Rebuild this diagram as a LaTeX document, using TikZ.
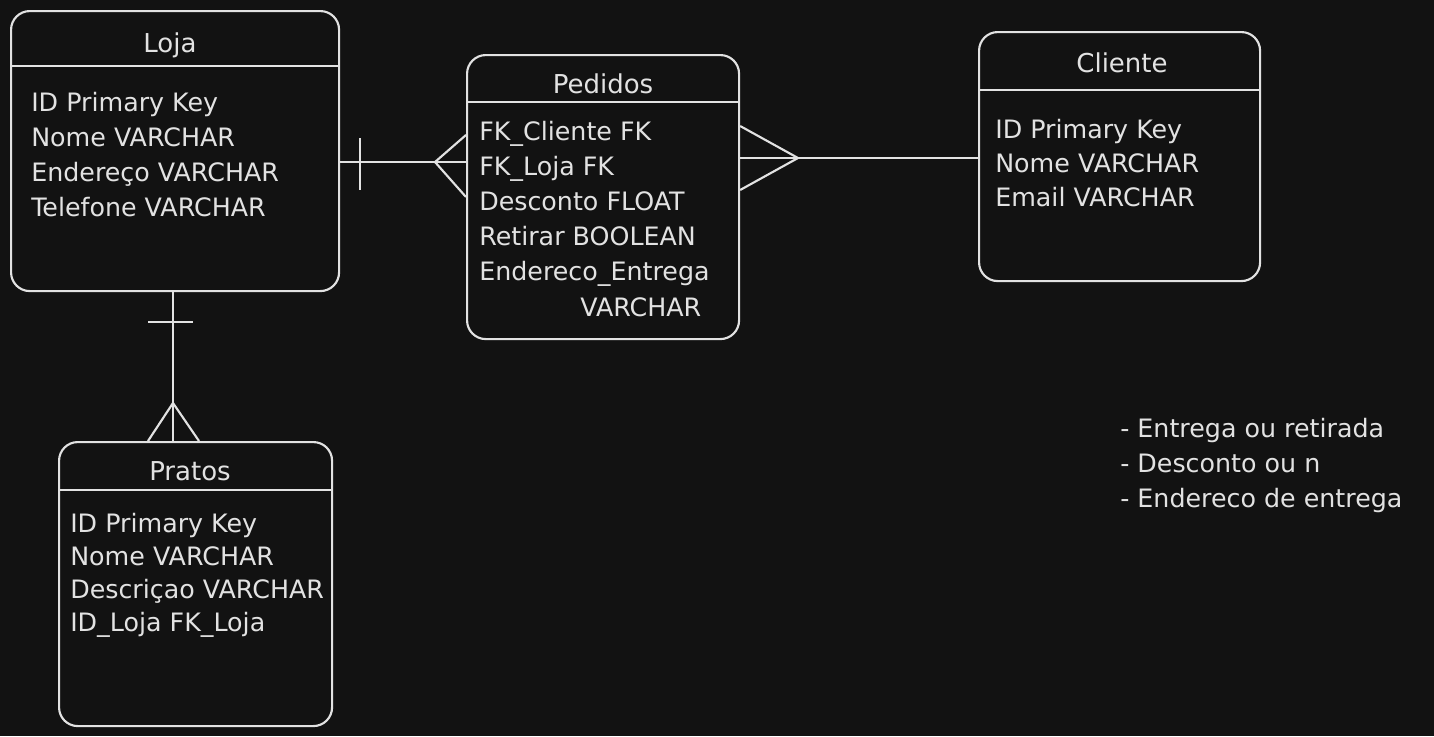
\documentclass[tikz,border=0pt]{standalone}
\usepackage{fontspec}
\setmainfont{DejaVu Sans}
\definecolor{bg}{HTML}{121212}
\definecolor{fg}{HTML}{E2E2E2}
\tikzset{
  entity/.style={draw=fg, line width=1.6pt, rounded corners=14pt, anchor=north west, inner sep=0pt},
  title/.style={text=fg, anchor=base, inner sep=0pt, font=\fontsize{19.5}{24}\selectfont},
  field/.style={text=fg, anchor=base west, inner sep=0pt, font=\fontsize{19}{24}\selectfont},
  rel/.style={draw=fg, line width=1.6pt}
}
\begin{document}
\begin{tikzpicture}[x=0.75pt,y=0.75pt,yscale=-1,xscale=1]
% background
\fill[bg] (0,0) rectangle (1434,736);
\useasboundingbox (0,0) rectangle (1434,736);

%Shape: Loja
\node[entity, minimum width=246pt, minimum height=210pt] (loja) at (10,10) {};
\draw[rel] (loja.west |- 0,66) -- (loja.east |- 0,66);
\node[title] (lojaT) at (170,52) {Loja};
\foreach \txt [count=\i] in {ID Primary Key, Nome VARCHAR, Endereço VARCHAR, Telefone VARCHAR}
  \node[field] (loja\i) at (31,76+35*\i) {\txt};

%Shape: Pedidos
\node[entity, minimum width=204pt, minimum height=213pt] (pedidos) at (466,54) {};
\draw[rel] (pedidos.west |- 0,102) -- (pedidos.east |- 0,102);
\node[title] (pedidosT) at (603,93) {Pedidos};
\foreach \txt [count=\i] in {FK\_Cliente FK, FK\_Loja FK, Desconto FLOAT, Retirar BOOLEAN, Endereco\_Entrega}
  \node[field] (pedidos\i) at (479,105+35*\i) {\txt};
\node[field] (pedidos6) at (580,316) {VARCHAR};

%Shape: Cliente
\node[entity, minimum width=210.75pt, minimum height=186.75pt] (cliente) at (978,31) {};
\draw[rel] (cliente.west |- 0,90) -- (cliente.east |- 0,90);
\node[title] (clienteT) at (1122,72) {Cliente};
\foreach \txt [count=\i] in {ID Primary Key, Nome VARCHAR, Email VARCHAR}
  \node[field] (cliente\i) at (995,104+34*\i) {\txt};

%Shape: Pratos
\node[entity, minimum width=204.75pt, minimum height=213pt] (pratos) at (58,441) {};
\draw[rel] (pratos.west |- 0,490) -- (pratos.east |- 0,490);
\node[title] (pratosT) at (190,480) {Pratos};
\foreach \txt [count=\i] in {ID Primary Key, Nome VARCHAR, Descriçao VARCHAR, ID\_Loja FK\_Loja}
  \node[field] (pratos\i) at (70,499+33*\i) {\txt};

% Loja -- Pedidos (one to many)
\coordinate (lpFoot) at (435,162);
\draw[rel] (loja.east |- 0,162) -- (pedidos.west |- 0,162);
\draw[rel] (360,138) -- (360,190);
\draw[rel] (pedidos.west |- 0,135) -- (lpFoot) -- (pedidos.west |- 0,197);

% Pedidos -- Cliente (many to one)
\coordinate (pcFoot) at (798,158);
\draw[rel] (pedidos.east |- 0,158) -- (cliente.west |- 0,158);
\draw[rel] (pedidos.east |- 0,126) -- (pcFoot) -- (pedidos.east |- 0,190);

% Loja -- Pratos (one to many)
\coordinate (lrFoot) at (173,403);
\draw[rel] (loja.south -| 173,0) -- (pratos.north -| 173,0);
\draw[rel] (148,322) -- (193,322);
\draw[rel] (pratos.north -| 148,0) -- (lrFoot) -- (pratos.north -| 199,0);

% Text Node
\node[field] (nota1) at (1120,437) {- Entrega ou retirada};
\node[field] (nota2) at (1120,472) {- Desconto ou n};
\node[field] (nota3) at (1120,507) {- Endereco de entrega};
\end{tikzpicture}
\end{document}
